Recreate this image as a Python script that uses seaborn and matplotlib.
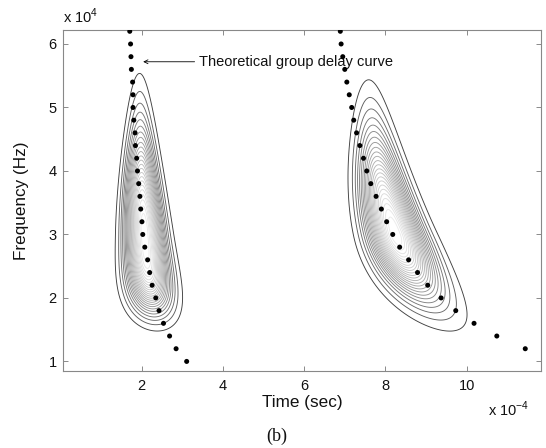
import numpy as np
import pandas as pd
import matplotlib
matplotlib.use("Agg")
import matplotlib.pyplot as plt
import seaborn as sns

# ---- Theoretical group delay curve (time in 1e-4 s, frequency in 1e4 Hz) ----
freq_left = [6.2, 6.0, 5.8, 5.6, 5.4, 5.2, 5.0, 4.8, 4.6, 4.4, 4.2, 4.0, 3.8, 3.6,
             3.4, 3.2, 3.0, 2.8, 2.6, 2.4, 2.2, 2.0, 1.8, 1.6, 1.4, 1.2, 1.0]
time_left = [1.71, 1.73, 1.74, 1.75, 1.78, 1.79, 1.79, 1.81, 1.84, 1.85, 1.88, 1.90, 1.93, 1.96,
             1.98, 2.01, 2.03, 2.08, 2.15, 2.20, 2.26, 2.35, 2.43, 2.54, 2.69, 2.85, 3.11]
freq_right = [6.2, 6.0, 5.8, 5.6, 5.4, 5.2, 5.0, 4.8, 4.6, 4.4, 4.2, 4.0, 3.8, 3.6,
              3.4, 3.2, 3.0, 2.8, 2.6, 2.4, 2.2, 2.0, 1.8, 1.6, 1.4, 1.2]
time_right = [6.89, 6.91, 6.95, 7.00, 7.05, 7.11, 7.17, 7.22, 7.29, 7.37, 7.46, 7.54, 7.64, 7.77,
              7.90, 8.03, 8.18, 8.35, 8.57, 8.79, 9.04, 9.37, 9.73, 10.18, 10.74, 11.44]

# ---- Time-frequency energy blobs (shape parameters) ----
blob_f0 = [3.05, 3.0]         # centre frequency
blob_t_inf = [1.93, 7.40]     # ridge asymptote (time)
blob_amp = [0.14, 0.85]       # ridge offset at f0
blob_k = [0.75, 0.62]         # ridge curvature rate
blob_st0 = [0.28, 0.41]       # time width at f0
blob_c = [0.2, 0.2]           # width change with frequency
blob_s_up = [0.98, 0.96]      # frequency spread above f0
blob_s_dn = [0.95, 0.60]      # frequency spread below f0
blob_p_dn = [3.7, 2.0]        # bluntness of lower end
n_levels = 24

xticks = [2, 4, 6, 8, 10]
yticks = [1, 2, 3, 4, 5, 6]

sns.set_style("ticks")
plt.rcParams["font.family"] = ["Liberation Sans", "DejaVu Sans"]

fig = plt.figure(figsize=(5.46, 4.48), dpi=100)
ax = fig.add_axes([0.1163, 0.172, 0.874, 0.761])

# energy field
tg = np.linspace(0.0, 12.0, 900)
fg = np.linspace(0.8, 6.4, 700)
T, F = np.meshgrid(tg, fg)
E = np.zeros_like(T)
for f0, ti, A, k, st0, c, su, sd, pd_ in zip(blob_f0, blob_t_inf, blob_amp, blob_k,
                                             blob_st0, blob_c, blob_s_up, blob_s_dn, blob_p_dn):
    v = F - f0
    ridge = ti + A * np.exp(-k * v)
    st = st0 * np.exp(-c * v)
    u = (T - ridge) / st
    w = np.where(v > 0, (v / su) ** 2, (np.abs(v) / sd) ** pd_)
    E += np.exp(-0.5 * (u ** 2 + w))

levels = np.linspace(0.04, 0.96, n_levels)
ramp = np.linspace(0.0, 1.0, n_levels) ** 0.55
greys = [str(g) for g in 0.25 + 0.67 * ramp]
ax.contour(T, F, E, levels=levels, colors=greys, linewidths=0.65)

df = pd.DataFrame({
    "time": time_left + time_right,
    "freq": freq_left + freq_right,
})
sns.scatterplot(data=df, x="time", y="freq", color="black", s=13,
                edgecolor="none", ax=ax, zorder=5)

ax.annotate("Theoretical group delay curve", xy=(2.04, 5.72), xytext=(3.42, 5.72),
            fontsize=10.5, va="center", ha="left", color="#111111",
            arrowprops=dict(arrowstyle="->", color="black", lw=0.6,
                            shrinkA=1, shrinkB=0, mutation_scale=7))

ax.set_xlim(0.08, 11.82)
ax.set_ylim(0.85, 6.22)
ax.set_xticks(xticks)
ax.set_yticks(yticks)
ax.set_xticklabels([str(t) for t in xticks], fontsize=10.5)
ax.set_yticklabels([str(t) for t in yticks], fontsize=10.5)
ax.tick_params(direction="in", top=True, right=True, length=3.5, width=0.6,
               color="#777777", labelcolor="#111111")
ax.tick_params(axis="x", pad=6)
ax.tick_params(axis="y", pad=5)
for s in ax.spines.values():
    s.set_visible(True)
    s.set_color("#888888")
    s.set_linewidth(0.8)

ax.set_xlabel("Time (sec)", fontsize=12.3, color="#111111", labelpad=1)
ax.set_ylabel("Frequency (Hz)", fontsize=12.3, color="#111111", labelpad=14)

fig.text(0.115, 0.942, r"x 10$^{\mathregular{4}}$", fontsize=10.5, ha="left", va="bottom",
         color="#111111")
fig.text(0.893, 0.087, r"x 10$^{\mathregular{-4}}$", fontsize=10.5, ha="left", va="center",
         color="#111111")
fig.text(0.507, 0.025, "(b)", fontsize=13, ha="center", va="center",
         family=["Liberation Serif", "DejaVu Serif"], color="#111111")

fig.savefig("out.png", dpi=100, facecolor="white")
